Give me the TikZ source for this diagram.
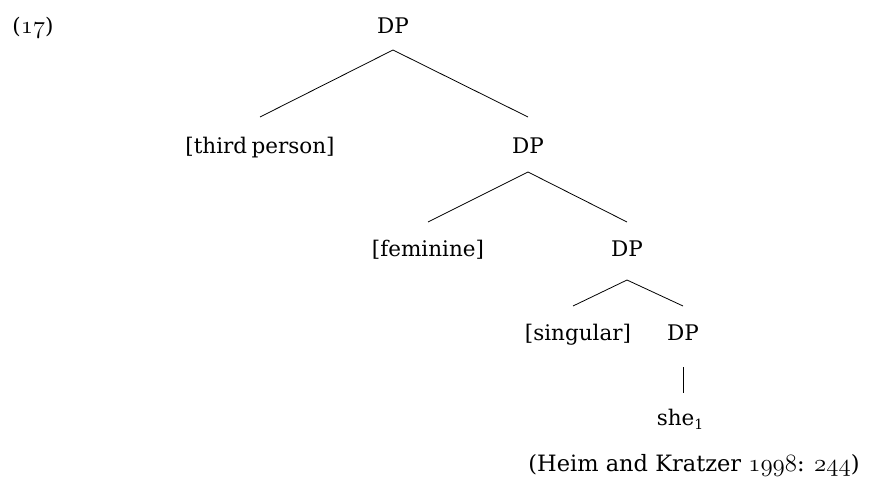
\documentclass[tikz,border=0pt]{standalone}
\usepackage{fontspec}
\setmainfont{DejaVu Serif}
\newcommand{\osnum}[1]{{\fontsize{27}{30}\usefont{OML}{cmm}{m}{it}#1}}
\newcommand{\osnumb}[1]{{\fontsize{29}{32}\usefont{OML}{cmm}{m}{it}#1}}
\newcommand{\mysub}[1]{\raisebox{-0.22em}{\fontsize{14}{16}\selectfont #1}}
\begin{document}
\begin{tikzpicture}[x=1pt,y=-1pt,
  lbl/.style={anchor=base,inner sep=0pt,font=\fontsize{21.5}{26}\selectfont},
  edge/.style={line width=0.8pt,black}]
\useasboundingbox (0,0) rectangle (872,479);
\node[lbl] (ex)   at (33,33)  {(\osnum{17})};
\node[lbl] (dp1)  at (393,33) {DP};
\node[lbl] (tp)   at (260,153) {[third\hspace{0.2em}person]};
\node[lbl] (dp2)  at (528,153) {DP};
\node[lbl] (fem)  at (428,256) {[feminine]};
\node[lbl] (dp3)  at (627,256) {DP};
\node[lbl] (sg)   at (578,340) {[singular]};
\node[lbl] (dp4)  at (683,340) {DP};
\node[lbl] (she)  at (680,425) {she\mysub{1}};
\node[lbl,font=\fontsize{22.5}{26}\selectfont] (cite) at (694,471) {(Heim and Kratzer \osnumb{1998}: \osnumb{244})};
\draw[edge] ([yshift=36pt]tp.base) -- ([yshift=-17pt]dp1.base) -- ([yshift=36pt]dp2.base);
\draw[edge] ([yshift=34pt]fem.base) -- ([yshift=-19pt]dp2.base) -- ([yshift=34pt]dp3.base);
\draw[edge] ([xshift=-5pt,yshift=34pt]sg.base) -- ([yshift=-24pt]dp3.base) -- ([yshift=34pt]dp4.base);
\draw[edge] ([yshift=-27pt]dp4.base) -- ([xshift=3pt,yshift=32pt]she.base);
\end{tikzpicture}
\end{document}
